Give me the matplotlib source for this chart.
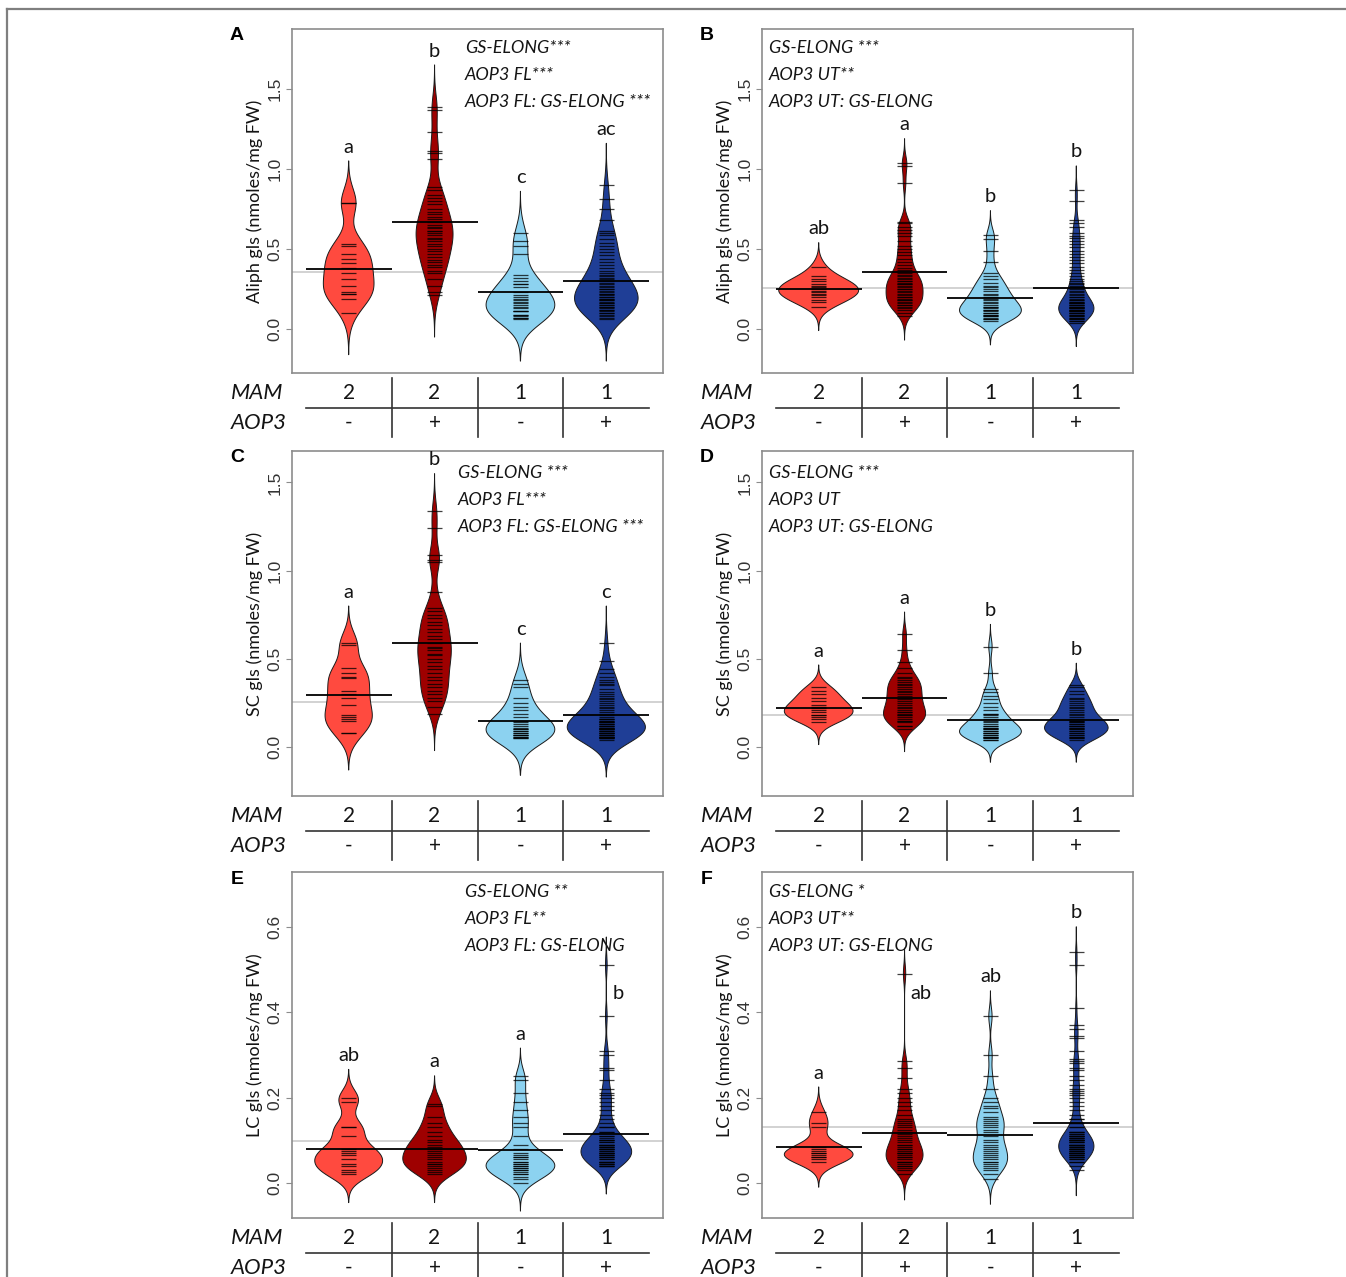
import numpy as np
import matplotlib.pyplot as plt
from matplotlib.transforms import blended_transform_factory

# ---- data: observations per bean (read off the beanlines), nmoles/mg FW ----
# groups in order: MAM2/AOP3-, MAM2/AOP3+, MAM1/AOP3-, MAM1/AOP3+
A1 = [0.79, 0.79, 0.53, 0.52, 0.47, 0.44, 0.41, 0.38, 0.35, 0.31, 0.27, 0.23, 0.22, 0.22, 0.19, 0.10]
A2 = [1.39, 1.37, 1.23, 1.11, 1.10, 1.06, 0.89, 0.87, 0.84, 0.82, 0.80, 0.78, 0.75, 0.73, 0.72, 0.70,
      0.69, 0.67, 0.65, 0.64, 0.63, 0.61, 0.61, 0.60, 0.59, 0.57, 0.56, 0.55, 0.53, 0.52, 0.50, 0.49,
      0.47, 0.45, 0.43, 0.42, 0.40, 0.39, 0.36, 0.35, 0.31, 0.27, 0.23, 0.21]
A3 = [0.60, 0.55, 0.52, 0.47, 0.34, 0.32, 0.30, 0.28, 0.28, 0.26, 0.23, 0.21, 0.20, 0.19, 0.18, 0.17,
      0.16, 0.15, 0.14, 0.13, 0.11, 0.11, 0.11, 0.09, 0.09, 0.08, 0.07, 0.07, 0.06]
A4 = [0.90, 0.81, 0.75, 0.68, 0.61, 0.60, 0.59, 0.56, 0.54, 0.52, 0.50, 0.48, 0.46, 0.44, 0.42, 0.40,
      0.38, 0.36, 0.35, 0.34, 0.33, 0.32, 0.31, 0.30, 0.29, 0.28, 0.27, 0.26, 0.25, 0.25, 0.24, 0.23,
      0.22, 0.22, 0.21, 0.20, 0.20, 0.19, 0.19, 0.18, 0.18, 0.17, 0.16, 0.16, 0.15, 0.15, 0.14, 0.14,
      0.13, 0.12, 0.12, 0.11, 0.10, 0.10, 0.09, 0.08, 0.07, 0.06]

B1 = [0.39, 0.33, 0.31, 0.30, 0.28, 0.27, 0.26, 0.25, 0.24, 0.23, 0.22, 0.21, 0.20, 0.18, 0.17, 0.14]
B2 = [1.04, 1.02, 0.91, 0.67, 0.66, 0.64, 0.62, 0.60, 0.58, 0.55, 0.52, 0.50, 0.48, 0.46, 0.44, 0.42,
      0.40, 0.38, 0.37, 0.35, 0.34, 0.33, 0.32, 0.31, 0.30, 0.30, 0.29, 0.28, 0.28, 0.27, 0.26, 0.25,
      0.25, 0.24, 0.23, 0.22, 0.21, 0.20, 0.20, 0.19, 0.18, 0.18, 0.17, 0.16, 0.15, 0.15, 0.14, 0.13,
      0.12, 0.10, 0.08]
B3 = [0.59, 0.56, 0.49, 0.42, 0.35, 0.33, 0.31, 0.29, 0.27, 0.26, 0.25, 0.24, 0.22, 0.21, 0.20, 0.19,
      0.18, 0.17, 0.16, 0.15, 0.14, 0.14, 0.13, 0.12, 0.12, 0.11, 0.10, 0.10, 0.09, 0.09, 0.08, 0.08,
      0.07, 0.06, 0.06, 0.05]
B4 = [0.87, 0.80, 0.68, 0.66, 0.64, 0.60, 0.58, 0.57, 0.55, 0.53, 0.51, 0.49, 0.47, 0.45, 0.43, 0.41,
      0.39, 0.37, 0.35, 0.33, 0.31, 0.30, 0.29, 0.28, 0.27, 0.26, 0.25, 0.24, 0.23, 0.22, 0.21, 0.20,
      0.20, 0.19, 0.18, 0.18, 0.17, 0.17, 0.16, 0.16, 0.16, 0.15, 0.15, 0.15, 0.14, 0.14, 0.14, 0.13,
      0.13, 0.13, 0.12, 0.12, 0.12, 0.11, 0.11, 0.11, 0.10, 0.10, 0.10, 0.09, 0.09, 0.08, 0.08, 0.07,
      0.07, 0.06, 0.06, 0.05, 0.05, 0.04]

C1 = [0.59, 0.58, 0.45, 0.42, 0.40, 0.39, 0.32, 0.30, 0.28, 0.24, 0.18, 0.17, 0.16, 0.15, 0.08, 0.08]
C2 = [1.34, 1.24, 1.09, 1.06, 1.05, 0.88, 0.79, 0.77, 0.75, 0.73, 0.71, 0.69, 0.67, 0.65, 0.63, 0.61,
      0.59, 0.57, 0.56, 0.55, 0.53, 0.52, 0.50, 0.48, 0.46, 0.44, 0.42, 0.40, 0.38, 0.36, 0.34, 0.32,
      0.30, 0.28, 0.26, 0.23, 0.19]
C3 = [0.38, 0.36, 0.34, 0.28, 0.25, 0.23, 0.21, 0.19, 0.17, 0.15, 0.14, 0.13, 0.12, 0.11, 0.10, 0.10,
      0.09, 0.09, 0.08, 0.08, 0.07, 0.07, 0.07, 0.06, 0.06, 0.05, 0.05]
C4 = [0.59, 0.49, 0.44, 0.42, 0.40, 0.38, 0.37, 0.36, 0.35, 0.33, 0.31, 0.30, 0.29, 0.28, 0.27, 0.26,
      0.25, 0.24, 0.23, 0.22, 0.21, 0.20, 0.19, 0.18, 0.17, 0.16, 0.16, 0.16, 0.15, 0.15, 0.14, 0.14,
      0.14, 0.13, 0.13, 0.13, 0.12, 0.12, 0.12, 0.11, 0.11, 0.11, 0.10, 0.10, 0.10, 0.10, 0.09, 0.09,
      0.09, 0.08, 0.08, 0.08, 0.08, 0.07, 0.07, 0.07, 0.06, 0.06, 0.06, 0.06, 0.05, 0.05, 0.05, 0.04]

D1 = [0.34, 0.32, 0.30, 0.28, 0.26, 0.24, 0.23, 0.22, 0.21, 0.20, 0.18, 0.18, 0.17, 0.16, 0.14]
D2 = [0.64, 0.55, 0.48, 0.45, 0.42, 0.40, 0.39, 0.38, 0.37, 0.36, 0.35, 0.34, 0.33, 0.32, 0.31, 0.30,
      0.29, 0.28, 0.27, 0.26, 0.25, 0.24, 0.23, 0.22, 0.21, 0.20, 0.20, 0.19, 0.18, 0.18, 0.17, 0.16,
      0.15, 0.15, 0.14, 0.12, 0.12, 0.10]
D3 = [0.57, 0.42, 0.33, 0.31, 0.29, 0.27, 0.25, 0.23, 0.21, 0.19, 0.19, 0.18, 0.17, 0.16, 0.15, 0.14,
      0.13, 0.12, 0.12, 0.11, 0.11, 0.10, 0.10, 0.09, 0.09, 0.08, 0.08, 0.08, 0.07, 0.07, 0.06, 0.06,
      0.06, 0.05, 0.05, 0.04, 0.04]
D4 = [0.35, 0.34, 0.32, 0.30, 0.28, 0.27, 0.26, 0.25, 0.24, 0.23, 0.22, 0.21, 0.20, 0.19, 0.18, 0.17,
      0.16, 0.15, 0.15, 0.14, 0.14, 0.13, 0.13, 0.12, 0.12, 0.12, 0.11, 0.11, 0.10, 0.10, 0.09, 0.09,
      0.08, 0.08, 0.07, 0.07, 0.06, 0.06, 0.05, 0.05, 0.04]

E1 = [0.20, 0.19, 0.13, 0.13, 0.11, 0.08, 0.075, 0.07, 0.065, 0.055, 0.045, 0.04, 0.03, 0.025, 0.02]
E2 = [0.185, 0.18, 0.155, 0.14, 0.13, 0.12, 0.11, 0.10, 0.095, 0.09, 0.085, 0.08, 0.075, 0.07, 0.065,
      0.06, 0.055, 0.05, 0.045, 0.045, 0.04, 0.035, 0.03, 0.025, 0.02]
E3 = [0.25, 0.24, 0.21, 0.19, 0.17, 0.155, 0.14, 0.13, 0.11, 0.09, 0.08, 0.07, 0.065, 0.06, 0.06, 0.055,
      0.05, 0.05, 0.045, 0.045, 0.04, 0.04, 0.035, 0.035, 0.03, 0.03, 0.025, 0.02, 0.02, 0.015, 0.01, 0.0]
E4 = [0.51, 0.39, 0.31, 0.30, 0.27, 0.265, 0.24, 0.22, 0.21, 0.205, 0.20, 0.19, 0.18, 0.17, 0.16, 0.15,
      0.14, 0.13, 0.13, 0.12, 0.12, 0.11, 0.11, 0.105, 0.10, 0.10, 0.10, 0.095, 0.095, 0.09, 0.09, 0.09,
      0.09, 0.085, 0.085, 0.085, 0.08, 0.08, 0.08, 0.08, 0.075, 0.075, 0.07, 0.07, 0.07, 0.07, 0.065,
      0.065, 0.065, 0.06, 0.06, 0.06, 0.055, 0.055, 0.05, 0.05, 0.05, 0.05, 0.045, 0.045, 0.045, 0.04,
      0.04, 0.04]

F1 = [0.165, 0.14, 0.13, 0.085, 0.08, 0.075, 0.07, 0.07, 0.065, 0.06, 0.06, 0.055, 0.05]
F2 = [0.49, 0.285, 0.27, 0.245, 0.22, 0.21, 0.20, 0.19, 0.18, 0.17, 0.16, 0.15, 0.145, 0.14, 0.135,
      0.13, 0.125, 0.12, 0.115, 0.11, 0.105, 0.10, 0.095, 0.09, 0.09, 0.085, 0.08, 0.08, 0.075, 0.07,
      0.07, 0.07, 0.065, 0.06, 0.06, 0.055, 0.05, 0.05, 0.05, 0.045, 0.04, 0.04, 0.035, 0.03, 0.02]
F3 = [0.39, 0.30, 0.25, 0.22, 0.20, 0.19, 0.18, 0.175, 0.165, 0.155, 0.15, 0.145, 0.14, 0.135, 0.13,
      0.125, 0.12, 0.11, 0.10, 0.095, 0.09, 0.085, 0.08, 0.075, 0.07, 0.065, 0.06, 0.055, 0.05, 0.05,
      0.045, 0.04, 0.035, 0.03, 0.02, 0.01]
F4 = [0.54, 0.51, 0.41, 0.37, 0.36, 0.345, 0.34, 0.31, 0.29, 0.285, 0.28, 0.27, 0.265, 0.25, 0.24,
      0.23, 0.22, 0.215, 0.21, 0.205, 0.20, 0.19, 0.18, 0.17, 0.16, 0.15, 0.15, 0.14, 0.14, 0.13, 0.13,
      0.12, 0.12, 0.12, 0.115, 0.115, 0.11, 0.11, 0.11, 0.11, 0.105, 0.105, 0.105, 0.10, 0.10, 0.10,
      0.10, 0.10, 0.095, 0.095, 0.095, 0.09, 0.09, 0.09, 0.09, 0.09, 0.085, 0.085, 0.085, 0.08, 0.08,
      0.08, 0.08, 0.08, 0.075, 0.075, 0.075, 0.07, 0.07, 0.07, 0.07, 0.07, 0.065, 0.065, 0.065, 0.06,
      0.06, 0.06, 0.06, 0.055, 0.055, 0.05, 0.05, 0.04, 0.03]

# group means (black bars), panels A..F
A_means = [0.373, 0.667, 0.229, 0.300]
B_means = [0.248, 0.358, 0.196, 0.258]
C_means = [0.297, 0.591, 0.147, 0.181]
D_means = [0.222, 0.279, 0.153, 0.156]
E_means = [0.079, 0.080, 0.078, 0.115]
F_means = [0.084, 0.118, 0.112, 0.141]
# overall mean line (grey) per panel, A..F
overall_means = [0.358, 0.258, 0.256, 0.181, 0.098, 0.130]
# widest point of every bean, in group units
A_widths = [0.59, 0.43, 0.80, 0.74]
B_widths = [0.93, 0.43, 0.72, 0.41]
C_widths = [0.55, 0.39, 0.80, 0.91]
D_widths = [0.80, 0.49, 0.72, 0.74]
E_widths = [0.79, 0.74, 0.80, 0.59]
F_widths = [0.80, 0.43, 0.40, 0.41]

panel_tags = ['A', 'B', 'C', 'D', 'E', 'F']
ylabels = ['Aliph gls (nmoles/mg FW)', 'Aliph gls (nmoles/mg FW)',
           'SC gls (nmoles/mg FW)', 'SC gls (nmoles/mg FW)',
           'LC gls (nmoles/mg FW)', 'LC gls (nmoles/mg FW)']
letters = [['a', 'b', 'c', 'ac'], ['ab', 'a', 'b', 'b'],
           ['a', 'b', 'c', 'c'], ['a', 'a', 'b', 'b'],
           ['ab', 'a', 'a', 'b'], ['a', 'ab', 'ab', 'b']]
stats = [['GS-ELONG***', 'AOP3 FL***', 'AOP3 FL: GS-ELONG ***'],
         ['GS-ELONG ***', 'AOP3 UT**', 'AOP3 UT: GS-ELONG'],
         ['GS-ELONG ***', 'AOP3 FL***', 'AOP3 FL: GS-ELONG ***'],
         ['GS-ELONG ***', 'AOP3 UT', 'AOP3 UT: GS-ELONG'],
         ['GS-ELONG **', 'AOP3 FL**', 'AOP3 FL: GS-ELONG'],
         ['GS-ELONG *', 'AOP3 UT**', 'AOP3 UT: GS-ELONG']]
mam_row = ['2', '2', '1', '1']
aop3_row = ['-', '+', '-', '+']
bean_colors = ['#FF4A3F', '#9E0000', '#8CD2F0', '#1F3E96']

groups = [[A1, A2, A3, A4], [B1, B2, B3, B4], [C1, C2, C3, C4],
          [D1, D2, D3, D4], [E1, E2, E3, E4], [F1, F2, F3, F4]]
means = [A_means, B_means, C_means, D_means, E_means, F_means]
widths = [A_widths, B_widths, C_widths, D_widths, E_widths, F_widths]

# ---- layout (pixels) ----
W, H = 1346, 1277
boxes = [(292, 29, 663, 373), (762, 29, 1133, 373),
         (292, 451, 663, 796), (762, 451, 1133, 796),
         (292, 872, 663, 1218), (762, 872, 1133, 1218)]
ylims = [(-0.275, 1.875), (-0.275, 1.875), (-0.277, 1.678), (-0.277, 1.678),
         (-0.082, 0.728), (-0.082, 0.728)]
yticks = [[0, 0.5, 1.0, 1.5]] * 4 + [[0, 0.2, 0.4, 0.6]] * 2
bws = [0.087, 0.05, 0.07, 0.042, 0.022, 0.02]
stat_left = [465, 769, 458, 769, 465, 769]
stat_top = [48, 48, 473, 473, 892, 892]
# letters that sit beside the bean instead of on top: (x offset, y)
letter_beside = {(4, 3): (0.07, 0.43), (5, 1): (0.07, 0.43)}

LAT = ['Lato', 'DejaVu Sans']
ARI = ['Liberation Sans', 'DejaVu Sans']
INK = '#141414'

fig = plt.figure(figsize=(W / 100, H / 100), dpi=100)
fig.patch.set_facecolor('white')

# frame lines of the figure (top and left)
fig.add_artist(plt.Line2D([7 / W, 1], [1 - 9 / H, 1 - 9 / H], color='#7f7f7f', lw=1.6))
fig.add_artist(plt.Line2D([7 / W, 7 / W], [1 - 9 / H, 0], color='#7f7f7f', lw=1.6))


def kde(vals, grid, bw):
    v = np.asarray(vals)
    z = (grid[:, None] - v[None, :]) / bw
    return np.exp(-0.5 * z ** 2).sum(axis=1) / (len(v) * bw * np.sqrt(2 * np.pi))


for p in range(6):
    x0, y0, x1, y1 = boxes[p]
    ax = fig.add_axes([x0 / W, 1 - y1 / H, (x1 - x0) / W, (y1 - y0) / H])
    ax.set_xlim(0.34, 4.66)
    ax.set_ylim(*ylims[p])
    bw = bws[p]

    ax.axhline(overall_means[p], color='#cfcfcf', lw=1.3, zorder=1)
    for i, vals in enumerate(groups[p]):
        c = i + 1
        g = np.linspace(min(vals) - 3 * bw, max(vals) + 3 * bw, 300)
        d = kde(vals, g, bw)
        w = d / d.max() * widths[p][i] / 2
        ax.fill(np.r_[c - w, (c + w)[::-1]], np.r_[g, g[::-1]], facecolor=bean_colors[i],
                edgecolor='#1a1a1a', lw=0.7, zorder=2)
        ax.hlines(vals, c - 0.09, c + 0.09, colors='black', lw=0.9, alpha=0.75, zorder=3)
        ax.hlines(means[p][i], c - 0.5, c + 0.5, colors='black', lw=1.3, zorder=4)

        if (p, i) in letter_beside:
            dx, yy = letter_beside[(p, i)]
            ax.text(c + dx, yy, letters[p][i], ha='left', va='baseline', fontsize=14.5,
                    family=LAT, color=INK)
        else:
            ax.annotate(letters[p][i], (c, max(vals) + 3 * bw), xytext=(0, 6),
                        textcoords='offset points', ha='center', va='baseline',
                        fontsize=14.5, family=LAT, color=INK)

    for s in ax.spines.values():
        s.set_color('#8c8c8c')
        s.set_linewidth(1.2)
    ax.set_xticks([])
    ax.set_yticks(yticks[p])
    ax.set_yticklabels(['%.1f' % t for t in yticks[p]], rotation=90, va='center',
                       family=ARI, fontsize=12.5, color='#333333')
    ax.tick_params(axis='y', length=4, color='#8c8c8c', pad=3)
    ax.set_ylabel(ylabels[p], family=LAT, fontsize=13, color=INK, labelpad=3)

    # panel tag
    fig.text((x0 - 55) / W, 1 - (y0 + 7) / H, panel_tags[p], ha='center', va='center',
             fontsize=14, fontweight='bold', family=ARI)

    # statistics text block
    for k, line in enumerate(stats[p]):
        fig.text(stat_left[p] / W, 1 - (stat_top[p] + 27 * k) / H, line, ha='left', va='center',
                 fontsize=13, style='italic', family=LAT, color=INK)

    # genotype table under the panel
    tr = blended_transform_factory(ax.transData, fig.transFigure)
    yb = y1

    def fy(px):
        return 1 - (yb + px) / H

    ax.text(-0.37, fy(20), 'MAM', transform=tr, ha='left', va='center', fontsize=16,
            style='italic', family=LAT, color=INK, clip_on=False)
    ax.text(-0.37, fy(50), 'AOP3', transform=tr, ha='left', va='center', fontsize=16,
            style='italic', family=LAT, color=INK, clip_on=False)
    for i in range(4):
        ax.text(i + 1, fy(20), mam_row[i], transform=tr, ha='center', va='center',
                fontsize=15, family=LAT, color=INK, clip_on=False)
        ax.text(i + 1, fy(50), aop3_row[i], transform=tr, ha='center', va='center',
                fontsize=15, family=LAT, color=INK, clip_on=False)
    ax.plot([0.5, 4.5], [fy(35), fy(35)], transform=tr, color='#333333', lw=1.2, clip_on=False)
    for xs in [1.5, 2.5, 3.5]:
        ax.plot([xs, xs], [fy(5), fy(64)], transform=tr, color='#333333', lw=1.2, clip_on=False)

fig.savefig('out.png', dpi=100, facecolor='white')
